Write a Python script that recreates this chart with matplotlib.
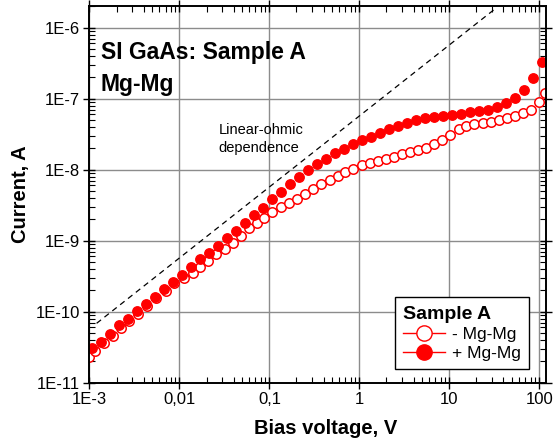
import matplotlib
matplotlib.use("agg")
import matplotlib.pyplot as plt
from matplotlib import rcParams
from matplotlib.lines import Line2D
from matplotlib.ticker import LogLocator, NullFormatter

rcParams['font.family'] = "Liberation Sans"
rcParams['axes.linewidth'] = 1.4

# "+ Mg-Mg" (filled circles), bias voltage in V, current in A
plus_v = [1.07e-3, 1.35e-3, 1.70e-3, 2.14e-3, 2.69e-3, 3.39e-3, 4.27e-3, 5.37e-3, 6.76e-3, 8.51e-3,
          1.07e-2, 1.35e-2, 1.70e-2, 2.14e-2, 2.69e-2, 3.39e-2, 4.27e-2, 5.37e-2, 6.76e-2, 8.51e-2,
          0.107, 0.135, 0.170, 0.214, 0.269, 0.339, 0.427, 0.537, 0.676, 0.851,
          1.07, 1.35, 1.70, 2.14, 2.69, 3.39, 4.27, 5.37, 6.76, 8.51,
          10.7, 13.5, 17.0, 21.4, 26.9, 33.9, 42.7, 53.7, 67.6, 85.1, 107.0]
plus_i = [3.05e-11, 3.78e-11, 4.85e-11, 6.50e-11, 7.97e-11, 1.01e-10, 1.27e-10, 1.63e-10, 2.07e-10, 2.62e-10,
          3.29e-10, 4.26e-10, 5.58e-10, 6.78e-10, 8.42e-10, 1.08e-9, 1.38e-9, 1.76e-9, 2.28e-9, 2.92e-9,
          3.87e-9, 4.90e-9, 6.23e-9, 7.82e-9, 9.90e-9, 1.20e-8, 1.42e-8, 1.70e-8, 1.98e-8, 2.30e-8,
          2.59e-8, 2.92e-8, 3.32e-8, 3.71e-8, 4.13e-8, 4.59e-8, 5.01e-8, 5.35e-8, 5.58e-8, 5.70e-8,
          5.89e-8, 6.09e-8, 6.43e-8, 6.65e-8, 7.00e-8, 7.71e-8, 8.79e-8, 1.03e-7, 1.34e-7, 1.94e-7, 3.29e-7]

# "- Mg-Mg" (open circles)
minus_v = [1.00e-3, 1.16e-3, 1.46e-3, 1.81e-3, 2.24e-3, 2.77e-3, 3.46e-3, 4.39e-3, 5.53e-3, 7.00e-3,
           8.81e-3, 1.12e-2, 1.40e-2, 1.71e-2, 2.09e-2, 2.55e-2, 3.21e-2, 3.97e-2, 4.83e-2, 5.93e-2,
           7.22e-2, 8.77e-2, 0.108, 0.134, 0.165, 0.201, 0.249, 0.305, 0.377, 0.468,
           0.579, 0.701, 0.856, 1.06, 1.30, 1.60, 1.98, 2.44, 2.95, 3.65,
           4.52, 5.50, 6.75, 8.35, 10.2, 12.7, 15.4, 18.9, 23.5, 28.8,
           35.6, 43.5, 53.7, 65.9, 80.4, 99.7, 117.0]
minus_i = [2.32e-11, 2.84e-11, 3.62e-11, 4.59e-11, 5.93e-11, 7.40e-11, 9.28e-11, 1.19e-10, 1.54e-10, 1.97e-10,
           2.51e-10, 3.00e-10, 3.47e-10, 4.26e-10, 5.18e-10, 6.43e-10, 7.64e-10, 9.37e-10, 1.16e-9, 1.50e-9,
           1.76e-9, 2.07e-9, 2.54e-9, 2.95e-9, 3.36e-9, 3.83e-9, 4.55e-9, 5.43e-9, 6.19e-9, 7.05e-9,
           8.15e-9, 9.19e-9, 1.02e-8, 1.15e-8, 1.23e-8, 1.33e-8, 1.40e-8, 1.51e-8, 1.64e-8, 1.75e-8,
           1.88e-8, 2.05e-8, 2.30e-8, 2.65e-8, 3.10e-8, 3.74e-8, 4.13e-8, 4.36e-8, 4.59e-8, 4.77e-8,
           5.01e-8, 5.30e-8, 5.67e-8, 6.23e-8, 6.98e-8, 9.07e-8, 1.21e-7]

# linear-ohmic reference line I = V / R
ohmic_v = [1.2e-3, 32.0]
ohmic_r = 1.75e7

x_ticks = [1e-3, 1e-2, 1e-1, 1, 10, 100]
x_labels = ["1E-3", "0,01", "0,1", "1", "10", "100"]
y_ticks = [1e-11, 1e-10, 1e-9, 1e-8, 1e-7, 1e-6]
y_labels = ["1E-11", "1E-10", "1E-9", "1E-8", "1E-7", "1E-6"]

fig = plt.figure(figsize=(5.53, 4.43), dpi=100)
ax = fig.add_axes([0.1618, 0.1361, 0.8250, 0.8510])

ax.set_xscale("log")
ax.set_yscale("log")
ax.set_xlim(1e-3, 117.8)
ax.set_ylim(1e-11, 2.04e-6)

ax.grid(True, which="major", color="#8c8c8c", lw=1.0)
ax.set_axisbelow(True)

ax.plot(ohmic_v, [v / ohmic_r for v in ohmic_v], color="k", lw=0.9,
        linestyle=(0, (4.5, 3.5)))

ax.plot(minus_v, minus_i, linestyle="none", marker="o", markersize=6.8,
        markerfacecolor="white", markeredgecolor="red", markeredgewidth=1.1)
ax.plot(plus_v, plus_i, linestyle="none", marker="o", markersize=6.8,
        markerfacecolor="red", markeredgecolor="red", markeredgewidth=1.0)

ax.set_xticks(x_ticks)
ax.set_xticklabels(x_labels)
ax.set_yticks(y_ticks)
ax.set_yticklabels(y_labels)
ax.xaxis.set_minor_locator(LogLocator(base=10, subs=range(2, 10), numticks=20))
ax.yaxis.set_minor_locator(LogLocator(base=10, subs=range(2, 10), numticks=20))
ax.xaxis.set_minor_formatter(NullFormatter())
ax.yaxis.set_minor_formatter(NullFormatter())

ax.tick_params(which="major", direction="inout", length=8, width=1.0,
               top=True, right=True, labelsize=12, pad=3)
ax.tick_params(which="minor", direction="in", length=4, width=0.8,
               top=True, right=True)

ax.set_xlabel("Bias voltage, V", fontsize=14.5, fontweight="bold")
ax.xaxis.set_label_coords(0.517, -0.095)
ax.set_ylabel("Current, A", fontsize=14.5, fontweight="bold")
ax.yaxis.set_label_coords(-0.13, 0.5)

ax.text(0.0246, 0.8578, "SI GaAs: Sample A", transform=ax.transAxes,
        fontsize=16.5, fontweight="bold", va="baseline", ha="left")
ax.text(0.0246, 0.7745, "Mg-Mg", transform=ax.transAxes,
        fontsize=16.5, fontweight="bold", va="baseline", ha="left")

ax.text(0.2823, 0.6597, "Linear-ohmic", transform=ax.transAxes,
        fontsize=10.5, va="baseline", ha="left")
ax.text(0.2823, 0.6128, "dependence", transform=ax.transAxes,
        fontsize=10.5, va="baseline", ha="left")

handles = [
    Line2D([0], [0], color="red", lw=1.0, marker="o", markersize=11,
           markerfacecolor="white", markeredgecolor="red", markeredgewidth=1.0),
    Line2D([0], [0], color="red", lw=1.0, marker="o", markersize=11,
           markerfacecolor="red", markeredgecolor="red"),
]
leg = ax.legend(handles, ["- Mg-Mg", "+ Mg-Mg"], loc="lower right",
                bbox_to_anchor=(0.9642, 0.0355), borderaxespad=0,
                fontsize=12.5, title="Sample A", title_fontproperties={"weight": "bold", "size": 14},
                alignment="left", fancybox=False, framealpha=1, edgecolor="black",
                handlelength=2.4, handletextpad=0.4, labelspacing=0.22,
                borderpad=0.5)
leg.get_frame().set_linewidth(1.0)

plt.savefig("out.png", dpi=100)
plt.close(fig)
